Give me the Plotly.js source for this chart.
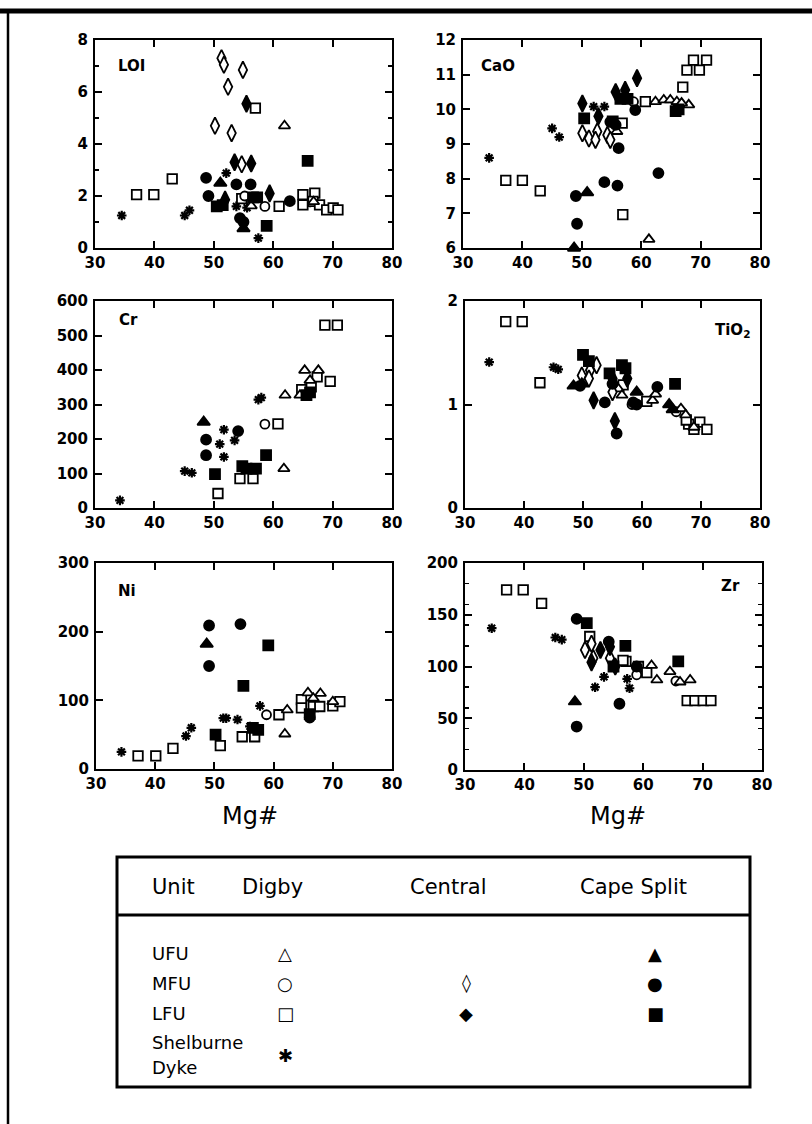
<!DOCTYPE html>
<html>
<head>
<meta charset="utf-8">
<script src="https://cdn.plot.ly/plotly-3.0.1.min.js"></script>
<style>html,body{margin:0;padding:0;background:#fff}#chart{width:812px;height:1124px}</style>
</head>
<body>
<div id="chart"></div>
<script>
// ---------------- DATA (Mg#, value) ----------------
// LOI
const loi_dUFU = [[61.9,4.7],[56.3,1.62],[66.8,1.78]];
const loi_dMFU = [[58.6,1.6],[55.2,2.0]];
const loi_dLFU = [[37.0,2.05],[39.9,2.05],[43.0,2.66],[57.0,5.38],[54.7,1.9],[61.0,1.6],[65.0,2.05],[67.0,2.11],[65.0,1.66],[66.7,1.79],[67.8,1.66],[69.0,1.47],[70.1,1.54],[70.9,1.47]];
const loi_cMFU = [[51.3,7.3],[51.7,7.05],[54.9,6.85],[52.4,6.2],[50.2,4.7],[53.0,4.42],[54.7,3.22]];
const loi_cLFU = [[53.5,3.3],[56.3,3.25],[55.5,5.55],[59.4,2.1],[51.9,1.86]];
const loi_pUFU = [[51.1,2.5],[55.0,0.75]];
const loi_pMFU = [[48.7,2.7],[49.1,2.0],[53.8,2.45],[56.2,2.45],[54.4,1.15],[62.8,1.8],[55.0,1.0]];
const loi_pLFU = [[50.5,1.6],[51.5,1.65],[56.6,1.95],[57.3,1.95],[58.9,0.85],[65.8,3.35]];
const loi_sd   = [[34.5,1.25],[45.1,1.25],[45.9,1.45],[52.1,2.88],[57.5,0.38],[53.8,1.6],[55.6,1.55],[66.2,1.75]];
// CaO
const cao_dUFU = [[62.4,10.22],[55.9,9.36],[61.3,6.25],[63.8,10.27],[64.9,10.27],[66.0,10.22],[68.0,10.13],[66.8,10.18]];
const cao_dMFU = [[58.7,10.22]];
const cao_dLFU = [[37.2,7.95],[40.0,7.95],[43.0,7.65],[56.9,6.96],[56.8,9.6],[60.7,10.22],[67.0,10.64],[67.7,11.13],[69.8,11.13],[68.8,11.42],[71.0,11.42]];
const cao_cMFU = [[50.1,9.31],[51.2,9.16],[52.6,9.36],[52.3,9.12],[54.3,9.26],[54.8,9.12]];
const cao_cLFU = [[50.1,10.17],[55.7,10.5],[57.3,10.56],[59.3,10.9],[52.8,9.8]];
const cao_pUFU = [[48.7,6.0],[50.9,7.6]];
const cao_pMFU = [[54.8,9.64],[56.2,8.88],[59.0,9.98],[49.0,7.5],[49.2,6.7],[53.8,7.9],[56.0,7.8],[62.9,8.16],[55.7,9.55]];
const cao_pLFU = [[50.4,9.74],[56.5,10.3],[57.7,10.3],[65.8,9.95],[66.3,10.0],[55.2,9.65]];
const cao_sd   = [[34.4,8.6],[45.0,9.45],[46.2,9.2],[52.0,10.08],[53.8,10.08]];
// Cr
const cr_dUFU = [[61.8,114],[62.0,327],[65.3,399],[67.6,399],[64.5,327],[66.2,370]];
const cr_dMFU = [[58.6,243]];
const cr_dLFU = [[50.7,42],[54.4,85],[56.6,85],[60.8,244],[68.7,530],[70.8,530],[69.6,367],[64.8,343],[67.4,380],[66.4,351]];
const cr_cMFU = [];
const cr_cLFU = [];
const cr_pUFU = [[48.3,249]];
const cr_pMFU = [[48.7,198],[48.7,153],[54.1,223]];
const cr_pLFU = [[50.2,98],[54.8,121],[55.5,114],[57.1,114],[58.8,153],[65.6,327],[66.2,335]];
const cr_sd   = [[34.2,22],[45.1,107],[46.3,102],[51.0,185],[51.7,227],[51.7,148],[53.5,196],[57.5,314],[58.0,320]];
// TiO2
const ti_dUFU = [[56.0,1.15],[56.6,1.09],[61.8,1.04],[62.3,1.10],[66.6,0.96],[67.4,0.90],[68.8,0.78]];
const ti_dMFU = [[58.3,1.00],[65.8,0.93]];
const ti_dLFU = [[36.9,1.80],[39.7,1.80],[42.7,1.21],[56.8,1.19],[60.8,1.03],[67.9,0.81],[69.8,0.83],[71.0,0.76],[68.8,0.76],[67.5,0.85]];
const ti_cMFU = [[49.8,1.28],[51.2,1.33],[52.3,1.38],[51.0,1.25],[55.0,1.12]];
const ti_cLFU = [[55.4,0.84],[51.8,1.04],[55.0,1.25],[57.5,1.25]];
const ti_pUFU = [[48.4,1.18],[49.8,1.20],[59.1,1.12],[64.6,1.00],[65.2,0.95]];
const ti_pMFU = [[55.7,0.72],[53.7,1.02],[49.5,1.18],[59.1,1.00],[58.5,1.02],[62.6,1.17],[55.0,1.20]];
const ti_pLFU = [[50.0,1.48],[51.0,1.42],[56.6,1.38],[57.2,1.35],[65.6,1.20],[54.5,1.30]];
const ti_sd   = [[34.1,1.41],[45.0,1.36],[45.8,1.34]];
// Ni
const ni_dUFU = [[61.9,51],[62.3,86],[65.8,111],[67.9,110],[70.0,98],[66.7,103]];
const ni_dMFU = [[58.8,79]];
const ni_dLFU = [[37.1,19],[40.1,19],[43.0,30],[51.0,34],[54.7,47],[56.8,47],[60.9,79],[64.7,101],[64.7,89],[66.7,91],[67.8,91],[70.0,92],[71.2,98]];
const ni_cMFU = [];
const ni_cLFU = [];
const ni_pUFU = [[48.7,182]];
const ni_pMFU = [[49.1,209],[54.4,211],[49.1,150],[66.1,75]];
const ni_pLFU = [[59.1,180],[54.9,121],[50.2,50],[56.5,60],[57.4,57],[66.1,80]];
const ni_sd   = [[34.3,25],[45.2,48],[46.1,60],[51.5,74],[52.0,74],[53.9,72],[57.7,92],[56.0,62]];
// Zr
const zr_dUFU = [[61.4,101],[62.3,87],[64.5,95],[67.9,87],[66.2,85]];
const zr_dMFU = [[58.9,92],[65.5,86]];
const zr_dLFU = [[37.0,174],[39.8,174],[42.9,161],[51.0,129],[57.1,105],[59.2,100],[60.6,94],[56.6,106],[67.4,67],[68.7,67],[70.1,67],[71.4,67]];
const zr_cMFU = [[50.2,116],[51.3,122],[51.6,108],[54.4,108]];
const zr_cLFU = [[52.8,116],[54.4,119],[51.3,104],[55.3,100]];
const zr_pUFU = [[48.5,66]];
const zr_pMFU = [[48.8,42],[56.0,64],[48.8,146],[54.2,124],[58.9,100]];
const zr_pLFU = [[50.5,142],[65.9,105],[55.0,100],[57.0,120]];
const zr_sd   = [[34.5,137],[45.2,128],[46.3,126],[51.9,80],[53.4,90],[57.7,79],[57.3,88]];

const panelNames = ['LOI','CaO','Cr','TiO<sub>2</sub>','Ni','Zr'];
const xRange = [30,80];
const yRanges = [[0,8],[6,12],[0,600],[0,2],[0,300],[0,200]];
const yDticks = [2,1,100,1,100,50];

// ---------------- STYLE ----------------
const W = 812, H = 1124;
const FONT = 'DejaVu Sans';
const groups = ['sd','dLFU','dMFU','dUFU','cMFU','cLFU','pLFU','pMFU','pUFU'];
const styles = {
  dUFU:{symbol:'triangle-up', size:10, fill:'white'},
  dMFU:{symbol:'circle', size:9, fill:'white'},
  dLFU:{symbol:'square', size:9.5, fill:'white'},
  cMFU:{symbol:'diamond-tall', size:12, fill:'white'},
  cLFU:{symbol:'diamond-tall', size:12, fill:'black'},
  pUFU:{symbol:'triangle-up', size:11, fill:'black'},
  pMFU:{symbol:'circle', size:10, fill:'black'},
  pLFU:{symbol:'square', size:10, fill:'black'},
  sd:{symbol:'asterisk-open', size:8, fill:'black'}
};
const panelData = [
  {dUFU:loi_dUFU,dMFU:loi_dMFU,dLFU:loi_dLFU,cMFU:loi_cMFU,cLFU:loi_cLFU,pUFU:loi_pUFU,pMFU:loi_pMFU,pLFU:loi_pLFU,sd:loi_sd},
  {dUFU:cao_dUFU,dMFU:cao_dMFU,dLFU:cao_dLFU,cMFU:cao_cMFU,cLFU:cao_cLFU,pUFU:cao_pUFU,pMFU:cao_pMFU,pLFU:cao_pLFU,sd:cao_sd},
  {dUFU:cr_dUFU,dMFU:cr_dMFU,dLFU:cr_dLFU,cMFU:cr_cMFU,cLFU:cr_cLFU,pUFU:cr_pUFU,pMFU:cr_pMFU,pLFU:cr_pLFU,sd:cr_sd},
  {dUFU:ti_dUFU,dMFU:ti_dMFU,dLFU:ti_dLFU,cMFU:ti_cMFU,cLFU:ti_cLFU,pUFU:ti_pUFU,pMFU:ti_pMFU,pLFU:ti_pLFU,sd:ti_sd},
  {dUFU:ni_dUFU,dMFU:ni_dMFU,dLFU:ni_dLFU,cMFU:ni_cMFU,cLFU:ni_cLFU,pUFU:ni_pUFU,pMFU:ni_pMFU,pLFU:ni_pLFU,sd:ni_sd},
  {dUFU:zr_dUFU,dMFU:zr_dMFU,dLFU:zr_dLFU,cMFU:zr_cMFU,cLFU:zr_cLFU,pUFU:zr_pUFU,pMFU:zr_pMFU,pLFU:zr_pLFU,sd:zr_sd}
];
// panel boxes in pixels [left,right,top,bottom]
const boxes = [[95,392,40,248],[463,760,40,248],[95,392,301,508],[465,760,301,508],[96,392,563,769],[465,762,563,770]];
const minors = [{dtick:1},null,null,null,null,{dtick:20}];
const labelPos = [
  {x:116,y:66,a:'left'},{x:479,y:66,a:'left'},{x:117,y:320,a:'left'},
  {x:752,y:330,a:'right'},{x:116,y:591,a:'left'},{x:742,y:586,a:'right'}
];

const px = v => v / W;
const py = v => 1 - v / H;

const traces = [];
const layout = {
  width: W, height: H,
  margin:{l:0,r:0,t:0,b:0},
  paper_bgcolor:'white', plot_bgcolor:'white',
  showlegend:false,
  font:{family:FONT, color:'black'},
  annotations:[], shapes:[]
};

boxes.forEach((b, i) => {
  const n = i + 1;
  const sfx = n === 1 ? '' : String(n);
  const common = {
    showline:true, linewidth:2, linecolor:'black', mirror:'allticks',
    ticks:'inside', ticklen:7, tickwidth:2, tickcolor:'black',
    showgrid:false, zeroline:false, fixedrange:true,
    tickfont:{family:FONT, size:15, weight:'bold', color:'black'}
  };
  layout['xaxis' + sfx] = Object.assign({}, common, {
    domain:[px(b[0]), px(b[1])], range:xRange, tick0:30, dtick:10,
    anchor:'y' + sfx
  });
  layout['yaxis' + sfx] = Object.assign({}, common, {
    domain:[py(b[3]), py(b[2])], range:yRanges[i], tick0:0, dtick:yDticks[i],
    anchor:'x' + sfx, ticklabelstandoff:2
  });
  if (minors[i]) layout['yaxis' + sfx].minor = {dtick:minors[i].dtick, ticks:'inside', ticklen:4, tickwidth:1.5, tickcolor:'black'};

  groups.forEach(g => {
    const d = panelData[i][g];
    if (!d.length) return;
    const s = styles[g];
    traces.push({
      type:'scatter', mode:'markers',
      x:d.map(p => p[0]), y:d.map(p => p[1]),
      xaxis:'x' + sfx, yaxis:'y' + sfx,
      cliponaxis:false, hoverinfo:'skip',
      marker:{symbol:s.symbol, size:s.size, color:s.fill,
              line:{color:'black', width: g === 'sd' ? 2.2 : 1.8}}
    });
  });

  const lp = labelPos[i];
  layout.annotations.push({
    xref:'paper', yref:'paper', x:px(lp.x), y:py(lp.y), xanchor:lp.a, yanchor:'middle',
    text:'<b>' + panelNames[i] + '</b>', showarrow:false, font:{family:FONT, size:15, color:'black'}
  });
});

// Mg# axis labels
[[250,816],[618,816]].forEach(p => layout.annotations.push({
  xref:'paper', yref:'paper', x:px(p[0]), y:py(p[1]), xanchor:'center', yanchor:'middle',
  text:'Mg#', showarrow:false, font:{family:FONT, size:24, color:'black'}
}));

// outer frame (top and left)
layout.shapes.push({type:'line', xref:'paper', yref:'paper', x0:0, x1:1, y0:py(11), y1:py(11), line:{color:'black', width:5}});
layout.shapes.push({type:'line', xref:'paper', yref:'paper', x0:px(8), x1:px(8), y0:py(11), y1:0, line:{color:'black', width:2.5}});

// legend table
layout.shapes.push({type:'rect', xref:'paper', yref:'paper', x0:px(117), x1:px(750), y0:py(857), y1:py(1087), line:{color:'black', width:3}});
layout.shapes.push({type:'line', xref:'paper', yref:'paper', x0:px(117), x1:px(750), y0:py(915), y1:py(915), line:{color:'black', width:3}});

const headers = [['Unit',150],['Digby',240],['Central',408],['Cape Split',578]];
headers.forEach(h => layout.annotations.push({
  xref:'paper', yref:'paper', x:px(h[1]), y:py(887), xanchor:'left', yanchor:'middle',
  text:h[0], showarrow:false, font:{family:FONT, size:21, color:'black'}
}));
const rows = [['UFU',953],['MFU',983],['LFU',1013],['Shelburne',1042],['Dyke',1067]];
rows.forEach(r => layout.annotations.push({
  xref:'paper', yref:'paper', x:px(150), y:py(r[1]), xanchor:'left', yanchor:'middle',
  text:r[0], showarrow:false, font:{family:FONT, size:18, color:'black'}
}));
const keys = [
  ['△',285,953],['○',285,983],['□',285,1013],['✱',285,1055],
  ['◊',466,983],['◆',466,1013],
  ['▲',655,953],['●',655,983],['■',655,1013]
];
keys.forEach(k => layout.annotations.push({
  xref:'paper', yref:'paper', x:px(k[1]), y:py(k[2]), xanchor:'center', yanchor:'middle',
  text:'<b>' + k[0] + '</b>', showarrow:false, font:{family:'DejaVu Sans', size:18, color:'black'}
}));

Plotly.newPlot('chart', traces, layout, {staticPlot:true, displayModeBar:false});
</script>
</body>
</html>
